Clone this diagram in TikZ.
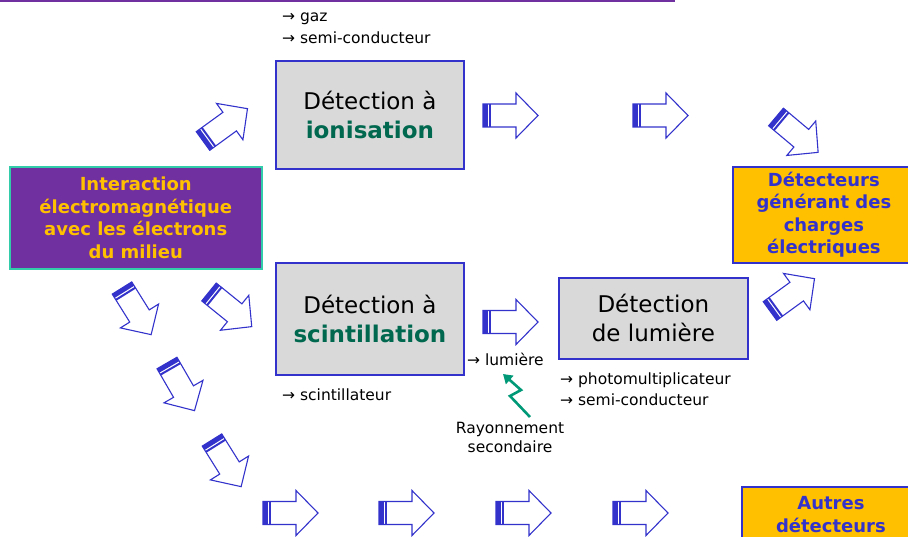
\documentclass[tikz,border=0pt]{standalone}
\usepackage{fontspec}
\setmainfont{DejaVu Sans}
\usetikzlibrary{arrows.meta}
\definecolor{bluec}{RGB}{51,51,204}
\definecolor{boxgray}{RGB}{217,217,217}
\definecolor{greent}{RGB}{0,104,78}
\definecolor{purplec}{RGB}{112,48,160}
\definecolor{tealb}{RGB}{51,204,170}
\definecolor{goldc}{RGB}{255,192,0}
\definecolor{boltc}{RGB}{0,153,119}
\newcommand{\blkarrow}[3]{%
  \begin{scope}[shift={(#1,#2)},rotate=#3]
    \draw[blkoutline] (0,-11.5) -- (33,-11.5) -- (33,-22.5) -- (55,0) -- (33,22.5) -- (33,11.5) -- (0,11.5) -- cycle;
    \fill[bluec] (0,-11.5) rectangle (4.5,11.5);
    \fill[bluec] (5.8,-11.5) rectangle (7.8,11.5);
  \end{scope}}
\begin{document}
\begin{tikzpicture}[x=1pt,y=-1pt,
  blkoutline/.style={draw=bluec, line width=1.1pt, fill=white, line join=miter},
  graybox/.style={draw=bluec, line width=1.8pt, fill=boxgray, align=center, inner sep=0,
    anchor=north west, font=\fontsize{23}{29}\selectfont},
  goldbox/.style={draw=bluec, line width=1.8pt, fill=goldc, align=center, inner sep=0,
    anchor=north west, text=bluec, font=\fontsize{18}{22.5}\selectfont\bfseries},
  smalltxt/.style={font=\fontsize{15.5}{19.5}\selectfont, inner sep=0, anchor=west, align=left},
  bolt/.style={draw=boltc, line width=2.6pt, -{Triangle[length=9pt,width=11pt]}}]
\useasboundingbox (0,0) rectangle (908,536);
\draw[purplec, line width=2.5pt] (0,1) -- (675,1);

% boxes
\node[graybox, minimum width=188pt, minimum height=108pt] (ion) at (275,60)
  {Détection à\\\textcolor{greent}{\bfseries ionisation}};
\node[graybox, minimum width=188pt, minimum height=112pt] (scint) at (275,262)
  {Détection à\\\textcolor{greent}{\bfseries scintillation}};
\node[graybox, minimum width=189pt, minimum height=81pt] (lum) at (558,277)
  {Détection\\de lumière};
\node[draw=tealb, line width=1.5pt, fill=purplec, align=center, inner sep=0, anchor=north west,
  text=goldc, font=\fontsize{18}{22.5}\selectfont\bfseries,
  minimum width=252pt, minimum height=102pt] (inter) at (9,166)
  {Interaction\\électromagnétique\\avec les électrons\\du milieu};
\node[goldbox, minimum width=182pt, minimum height=96pt] (charge) at (732,166)
  {Détecteurs\\générant des\\charges\\électriques};
\node[goldbox, minimum width=178pt, minimum height=55pt] (autres) at (741,486)
  {Autres\\détecteurs};

% small texts
\node[smalltxt] (gaz) at (282,19) {→ gaz};
\node[smalltxt] (semi1) at (282,38) {→ semi-conducteur};
\node[smalltxt] (scintl) at (282,395) {→ scintillateur};
\node[smalltxt] (lumt) at (467,359) {→ lumière};
\node[smalltxt] (pm) at (560,380) {→ photomultiplicateur};
\node[smalltxt] (semi2) at (560,400) {→ semi-conducteur};
\node[font=\fontsize{15.5}{19}\selectfont, inner sep=0, align=center] (ray) at (510,437.5)
  {Rayonnement\\secondaire};

% lightning
\coordinate (bt) at (530,417);
\coordinate (bh) at (503,374);
\draw[bolt] (bt) -- (510,396) -- (521,390) -- (bh);

% block arrows
\blkarrow{203}{141}{36}
\blkarrow{483}{115.5}{0}
\blkarrow{633}{115.5}{0}
\blkarrow{776}{117}{-40}
\blkarrow{122}{288}{-58}
\blkarrow{209}{292}{-39}
\blkarrow{167}{363}{-60}
\blkarrow{212}{440}{-58}
\blkarrow{483}{322}{0}
\blkarrow{770}{311}{36}
\blkarrow{263}{513}{0}
\blkarrow{379}{513}{0}
\blkarrow{496}{513}{0}
\blkarrow{613}{513}{0}
\end{tikzpicture}
\end{document}
